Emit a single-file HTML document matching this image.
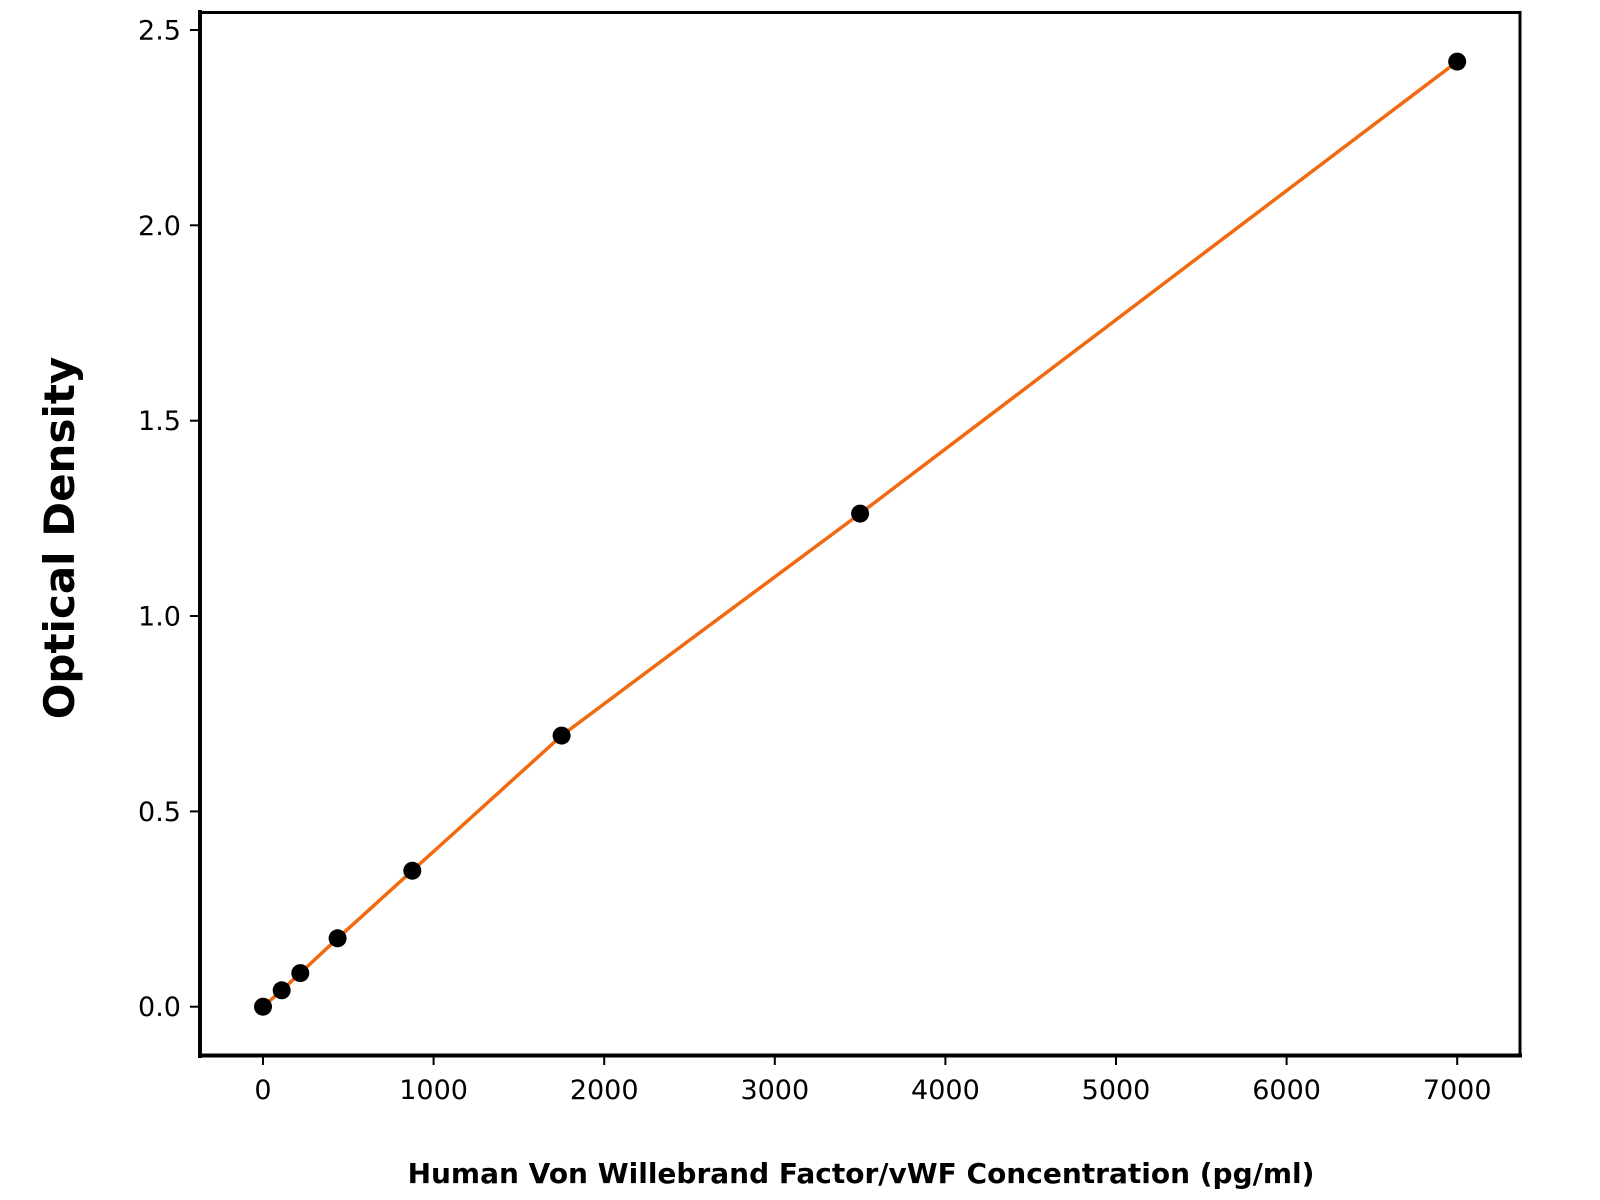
<!DOCTYPE html>
<html><head><meta charset="utf-8"><style>html,body{margin:0;padding:0;background:#fff}svg{display:block}</style></head>
<body>
<svg width="1600" height="1200" viewBox="0 0 1600 1200" xmlns="http://www.w3.org/2000/svg" font-family="'DejaVu Sans','Liberation Sans',sans-serif">
<rect width="1600" height="1200" fill="#fff"/>
<path d="M263,1006.7 L281.7,990.3 L300.3,973.1 L337.6,938.3 L412.3,870.7 C462,826 511,781 561.6,735.6 C661,661 760,588 860.1,513.6 C1059,363 1258,212 1457.2,61.6" fill="none" stroke="#f26a10" stroke-width="3.5"/>
<g fill="#000">
<circle cx="263" cy="1006.7" r="9"/><circle cx="281.7" cy="990.3" r="9"/><circle cx="300.3" cy="973.1" r="9"/><circle cx="337.6" cy="938.3" r="9"/><circle cx="412.3" cy="870.7" r="9"/><circle cx="561.6" cy="735.6" r="9"/><circle cx="860.1" cy="513.6" r="9"/><circle cx="1457.2" cy="61.6" r="9"/>
</g>
<g fill="none" stroke="#000">
<line x1="200" y1="12.5" x2="1520" y2="12.5" stroke-width="3"/>
<line x1="1520" y1="11" x2="1520" y2="1057" stroke-width="3"/>
<line x1="200" y1="1055.5" x2="1522" y2="1055.5" stroke-width="4"/>
<line x1="200" y1="10" x2="200" y2="1058" stroke-width="4"/>
<g stroke-width="2">
<line x1="263" y1="1057" x2="263" y2="1065"/><line x1="433.6" y1="1057" x2="433.6" y2="1065"/><line x1="604.2" y1="1057" x2="604.2" y2="1065"/><line x1="774.8" y1="1057" x2="774.8" y2="1065"/><line x1="945.4" y1="1057" x2="945.4" y2="1065"/><line x1="1116" y1="1057" x2="1116" y2="1065"/><line x1="1286.6" y1="1057" x2="1286.6" y2="1065"/><line x1="1457.2" y1="1057" x2="1457.2" y2="1065"/>
<line x1="190" y1="1006.7" x2="198" y2="1006.7"/><line x1="190" y1="811.4" x2="198" y2="811.4"/><line x1="190" y1="616" x2="198" y2="616"/><line x1="190" y1="420.7" x2="198" y2="420.7"/><line x1="190" y1="225.3" x2="198" y2="225.3"/><line x1="190" y1="30" x2="198" y2="30"/>
</g></g>
<g font-size="27" fill="#000" text-anchor="middle">
<text x="263" y="1099">0</text><text x="433.6" y="1099">1000</text><text x="604.2" y="1099">2000</text><text x="774.8" y="1099">3000</text><text x="945.4" y="1099">4000</text><text x="1116" y="1099">5000</text><text x="1286.6" y="1099">6000</text><text x="1457.2" y="1099">7000</text>
</g>
<g font-size="27" fill="#000" text-anchor="end">
<text x="181" y="1016">0.0</text><text x="181" y="821">0.5</text><text x="181" y="625.5">1.0</text><text x="181" y="430">1.5</text><text x="181" y="235">2.0</text><text x="181" y="39.5">2.5</text>
</g>
<text x="861" y="1183" font-size="28" font-weight="bold" text-anchor="middle">Human Von Willebrand Factor/vWF Concentration (pg/ml)</text>
<text transform="translate(74,538) rotate(-90)" font-size="42" font-weight="bold" text-anchor="middle">Optical Density</text>
</svg>
</body></html>
